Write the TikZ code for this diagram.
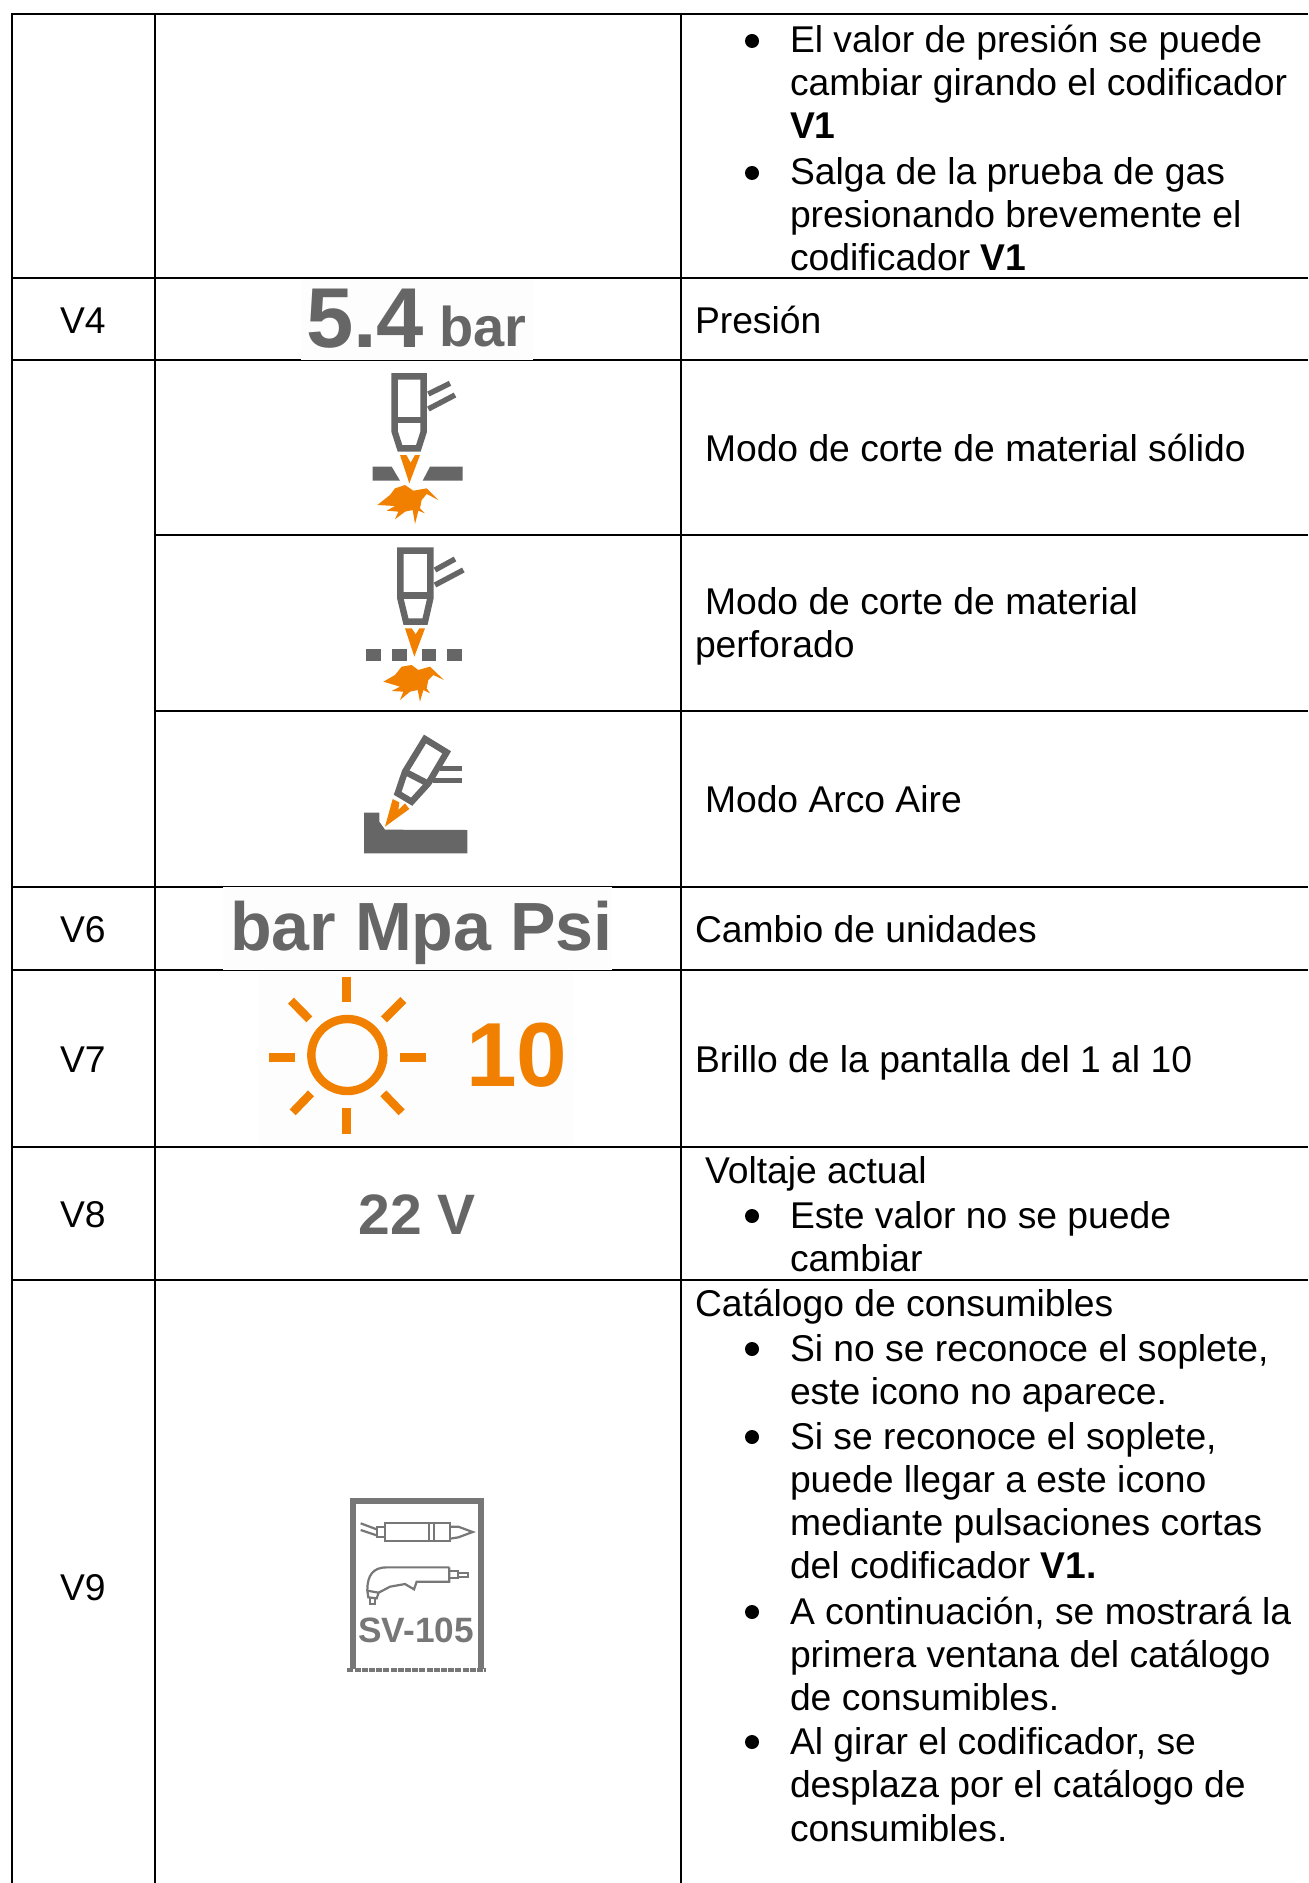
\documentclass[tikz,border=0pt]{standalone}
\usepackage{fontspec}
\setmainfont{Liberation Sans}
\definecolor{icongray}{HTML}{666666}
\definecolor{iconorange}{HTML}{F28000}
\definecolor{pale}{HTML}{FDFDFD}
\definecolor{framegray}{HTML}{777777}
\tikzset{
 rule/.style={line width=1.15pt,black},
 txt/.style={anchor=base west,inner sep=0pt,outer sep=0pt,font=\fontsize{18.63}{20}\selectfont},
 dotb/.style={circle,fill=black,inner sep=0pt,minimum size=7pt},
 zoomthree/.style={x=0.16667pt,y=-0.16667pt},
 torch/.style={draw=icongray,line width=3.2pt,line join=miter},
 hose/.style={draw=icongray,line width=2.7pt},
 flame/.style={fill=iconorange,draw=none},
 metal/.style={fill=icongray,draw=none},
 ray/.style={draw=iconorange,line width=4.2pt},
 thinicon/.style={draw=framegray,line width=1.1pt},
 bigicon/.style={anchor=base west,inner sep=0pt,outer sep=0pt,text=icongray}
}
\begin{document}
\begin{tikzpicture}[x=0.5pt,y=-0.5pt]
\useasboundingbox (0,0) rectangle (1308,1883);
\fill[white] (0,0) rectangle (1308,1883);
% table rules
\draw[rule] (1308,14) -- (12,14) -- (12,1883);
\draw[rule] (155,14) -- (155,1883);
\draw[rule] (681,14) -- (681,1883);
\draw[rule] (12,278) -- (1308,278);
\draw[rule] (12,360) -- (1308,360);
\draw[rule] (155,535) -- (1308,535);
\draw[rule] (155,711) -- (1308,711);
\draw[rule] (12,887) -- (1308,887);
\draw[rule] (12,970) -- (1308,970);
\draw[rule] (12,1147) -- (1308,1147);
\draw[rule] (12,1280) -- (1308,1280);
% image backgrounds
\fill[pale] (301,279.2) rectangle (533,359.6);
\fill[pale] (223,887.4) rectangle (612,969.6);
\fill[pale] (259,971.4) rectangle (574,1145.5);
% first column
\node[txt] (v4) at (60,334) {V4};
\node[txt] (v6) at (60,942) {V6};
\node[txt] (v7) at (60,1072) {V7};
\node[txt] (v8) at (60,1227) {V8};
\node[txt] (v9) at (60,1600) {V9};
% right column: top cell
\node[dotb] (b1) at (752,41) {};
\node[txt] (t1) at (790,53) {El valor de presión se puede};
\node[txt] (t2) at (790,96) {cambiar girando el codificador};
\node[txt] (t3) at (790,139) {\textbf{V1}};
\node[dotb] (b2) at (752,173) {};
\node[txt] (t4) at (790,185) {Salga de la prueba de gas};
\node[txt] (t5) at (790,228) {presionando brevemente el};
\node[txt] (t6) at (790,271) {codificador \textbf{V1}};
% right column: single rows
\node[txt] (t7) at (695,334) {Presión};
\node[txt] (t8) at (705,461) {Modo de corte de material sólido};
\node[txt] (t9) at (705,614) {Modo de corte de material};
\node[txt] (t10) at (695,657) {perforado};
\node[txt] (t11) at (705,812) {Modo Arco Aire};
\node[txt] (t12) at (695,942) {Cambio de unidades};
\node[txt] (t13) at (695,1072) {Brillo de la pantalla del 1 al 10};
% V8
\node[txt] (t14) at (705,1183) {Voltaje actual};
\node[dotb] (b3) at (752,1216) {};
\node[txt] (t15) at (790,1228) {Este valor no se puede};
\node[txt] (t16) at (790,1271) {cambiar};
% V9
\node[txt] (t17) at (695,1316) {Catálogo de consumibles};
\node[dotb] (b4) at (752,1349) {};
\node[txt] (t18) at (790,1361) {Si no se reconoce el soplete,};
\node[txt] (t19) at (790,1404) {este icono no aparece.};
\node[dotb] (b5) at (752,1437) {};
\node[txt] (t20) at (790,1449) {Si se reconoce el soplete,};
\node[txt] (t21) at (790,1492) {puede llegar a este icono};
\node[txt] (t22) at (790,1535) {mediante pulsaciones cortas};
\node[txt] (t23) at (790,1578) {del codificador \textbf{V1.}};
\node[dotb] (b6) at (752,1612) {};
\node[txt] (t24) at (790,1624) {A continuación, se mostrará la};
\node[txt] (t25) at (790,1667) {primera ventana del catálogo};
\node[txt] (t26) at (790,1710) {de consumibles.};
\node[dotb] (b7) at (752,1742) {};
\node[txt] (t27) at (790,1754) {Al girar el codificador, se};
\node[txt] (t28) at (790,1797) {desplaza por el catálogo de};
\node[txt] (t29) at (790,1841) {consumibles.};
% big value texts
\node[bigicon,font=\fontsize{42.5}{45}\selectfont\bfseries] (val54) at (306,348) {5.4};
\node[bigicon,font=\fontsize{28}{30}\selectfont\bfseries] (valbar) at (439,347) {bar};
\node[bigicon,font=\fontsize{34.1}{37}\selectfont\bfseries] (units) at (230,950) {bar Mpa Psi};
\node[bigicon,font=\fontsize{45.5}{50}\selectfont\bfseries,text=iconorange] (ten) at (466,1086) {10};
\node[anchor=base,inner sep=0pt,text=icongray,font=\fontsize{28.5}{33}\selectfont\bfseries] (volt) at (417,1234) {22 V};
% icon 1
\begin{scope}[shift={(280,270)},zoomthree]
\draw[torch] (344,319) -- (431,319) -- (431,485) -- (415,535) -- (360,535) -- (344,485) -- cycle;
\draw[torch] (344,450) -- (431,450);
\draw[hose] (445,372) -- (510,340);
\draw[hose] (445,417) -- (525,375);
\fill[flame] (360,555) -- (379,555) -- (392,578) -- (405,555) -- (420,555) -- (388,640) -- cycle;
\fill[metal] (278,590) -- (335,590) -- (360,632) -- (278,632) -- cycle;
\fill[metal] (450,590) -- (548,590) -- (548,632) -- (428,632) -- cycle;
\fill[flame] (292,705) -- (330,675) -- (345,655) -- (375,645) -- (400,662) -- (440,655) -- (475,690) -- (440,672) -- (425,690) -- (420,715) -- (435,730) -- (415,722) -- (405,762) -- (398,720) -- (375,725) -- (345,748) -- (355,725) -- (320,722) -- (345,708) -- cycle;
\end{scope}
% icon 2
\begin{scope}[shift={(320,535)},zoomthree]
\draw[torch] (241,47) -- (331,47) -- (331,190) -- (315,260) -- (258,260) -- (241,190) -- cycle;
\draw[torch] (241,182) -- (331,182);
\draw[hose] (345,105) -- (405,72);
\draw[hose] (345,150) -- (430,105);
\fill[flame] (255,280) -- (275,280) -- (287,298) -- (298,280) -- (315,280) -- (283,365) -- cycle;
\fill[metal] (138,343) rectangle (182,377);
\fill[metal] (215,343) rectangle (260,377);
\fill[metal] (305,343) rectangle (348,377);
\fill[metal] (382,343) rectangle (425,377);
\fill[flame] (190,440) -- (225,420) -- (245,395) -- (275,390) -- (295,405) -- (330,395) -- (372,435) -- (340,420) -- (325,435) -- (320,460) -- (330,475) -- (310,465) -- (300,500) -- (293,465) -- (270,470) -- (240,495) -- (250,470) -- (215,468) -- (240,455) -- cycle;
\end{scope}
% icon 3
\begin{scope}[shift={(330,715)},zoomthree]
\draw[torch] (285,72) -- (350,112) -- (295,205) -- (245,260) -- (203,235) -- (225,170) -- cycle;
\draw[torch] (225,170) -- (298,208);
\draw[hose] (330,160) -- (395,160);
\draw[hose] (310,197) -- (395,197);
\fill[flame] (188,252) -- (208,262) -- (205,285) -- (225,265) -- (238,282) -- (165,335) -- cycle;
\fill[metal] (102,293) -- (148,293) -- (148,320) -- (165,344) -- (412,345) -- (412,415) -- (102,415) -- cycle;
\end{scope}
% sun
\begin{scope}[shift={(210,880)},zoomthree]
\draw[ray] (412,525) circle [x radius=108,y radius=108];
\draw[ray] (410,290) -- (410,366);
\draw[ray] (410,685) -- (410,762);
\draw[ray] (177,532) -- (255,532);
\draw[ray] (570,532) -- (647,532);
\draw[ray] (243,362) -- (298,418);
\draw[ray] (580,360) -- (522,418);
\draw[ray] (248,697) -- (303,640);
\draw[ray] (575,697) -- (520,640);
\end{scope}
% consumables icon
\begin{scope}[shift={(330,1480)},zoomthree]
\draw[framegray,line width=3pt] (68,568) -- (68,62) -- (452,62) -- (452,568);
\draw[framegray,line width=1.6pt,dash pattern=on 3pt off 0.6pt] (52,570) -- (468,570);
\draw[thinicon] (92,130) -- (140,148);
\draw[thinicon] (92,150) -- (140,166);
\draw[thinicon] (140,142) rectangle (165,172);
\draw[thinicon] (165,130) rectangle (360,182);
\draw[thinicon] (298,130) -- (298,182);
\draw[thinicon] (313,130) -- (313,182);
\draw[thinicon] (360,140) -- (385,140) -- (428,156) -- (385,172) -- (360,176);
\draw[thinicon] (358,262) -- (170,262) .. controls (130,262) and (112,285) .. (112,330);
\draw[thinicon] (358,262) -- (358,305) -- (260,305) -- (252,328) -- (225,312) -- (180,320) -- (146,338);
\draw[thinicon] (358,274) -- (385,274) -- (385,295) -- (358,295);
\draw[thinicon] (385,278) -- (415,278) -- (415,292) -- (385,292);
\draw[thinicon] (112,332) -- (146,338) -- (140,355) -- (115,352) -- cycle;
\draw[thinicon] (120,354) -- (120,372) -- (136,372) -- (136,356);
\node[anchor=base,inner sep=0pt,text=framegray,font=\fontsize{17.6}{19}\selectfont\bfseries] (sv) at (258,486) {SV-105};
\end{scope}
\end{tikzpicture}
\end{document}
